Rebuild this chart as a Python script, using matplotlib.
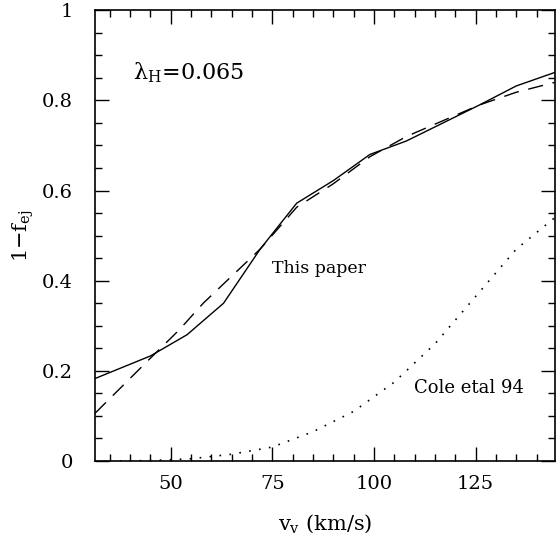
import matplotlib.pyplot as plt
from matplotlib.ticker import MultipleLocator

# "This paper" (solid)
paper_v = [31.4, 45, 54, 63, 72, 81, 90, 99, 108, 117, 126, 135, 144.5]
paper_f = [0.183, 0.233, 0.28, 0.35, 0.47, 0.572, 0.622, 0.68, 0.71, 0.75, 0.79, 0.832, 0.862]

# dashed fit
fit_v = [31.4, 45, 52, 58, 72, 81, 90, 99, 108, 117, 126, 135, 144.5]
fit_f = [0.106, 0.228, 0.29, 0.35, 0.47, 0.563, 0.615, 0.675, 0.72, 0.755, 0.79, 0.818, 0.84]

# Cole et al 94 (dotted)
cole_v = [35, 45, 55, 65, 75, 85, 95, 105, 115, 125, 135, 144.5]
cole_f = [0.0, 0.001, 0.005, 0.015, 0.031, 0.065, 0.11, 0.175, 0.26, 0.365, 0.47, 0.54]


def ylab(v, pos):
    v = round(v, 3)
    if v == 0:
        return "0"
    if v == 1:
        return "1"
    return f"{v:.1f}"


plt.rcParams["font.family"] = ["DejaVu Serif"]
plt.rcParams["mathtext.fontset"] = "dejavuserif"

fig = plt.figure(figsize=(5.56, 5.37), dpi=100)
ax = fig.add_axes([0.171, 0.1415, 0.827, 0.8395])

ax.plot(paper_v, paper_f, color="black", linewidth=1.0, linestyle="-")
ax.plot(fit_v, fit_f, color="black", linewidth=1.0, linestyle=(0, (11, 7)))
ax.plot(cole_v, cole_f, color="black", linewidth=1.2, linestyle=(0, (1, 5)))

ax.set_xlim(31.4, 144.5)
ax.set_ylim(0, 1)

ax.xaxis.set_major_locator(MultipleLocator(25))
ax.xaxis.set_minor_locator(MultipleLocator(5))
ax.yaxis.set_major_locator(MultipleLocator(0.2))
ax.yaxis.set_minor_locator(MultipleLocator(0.05))
ax.yaxis.set_major_formatter(plt.FuncFormatter(ylab))

ax.tick_params(which="both", direction="in", top=True, right=True, labelsize=14, width=1.0)
ax.tick_params(which="major", length=10)
ax.tick_params(which="minor", length=5)
ax.tick_params(axis="x", which="major", pad=10)
ax.tick_params(axis="y", which="major", pad=16)
for s in ax.spines.values():
    s.set_linewidth(1.2)

ax.set_xlabel(r"v$_\mathregular{v}$ (km/s)", fontsize=15, labelpad=14)
ax.set_ylabel(r"1$-$f$_\mathregular{ej}$", fontsize=15)
ax.yaxis.set_label_coords(-0.128, 0.5)

ax.text(40.7, 0.862, "λ$_\\mathregular{H}$=0.065", fontsize=16, ha="left", va="center")
ax.text(74.9, 0.428, "This paper", fontsize=12.5, ha="left", va="center")
ax.text(109.9, 0.162, "Cole etal 94", fontsize=13, ha="left", va="center")

fig.savefig("out.png", dpi=100)
